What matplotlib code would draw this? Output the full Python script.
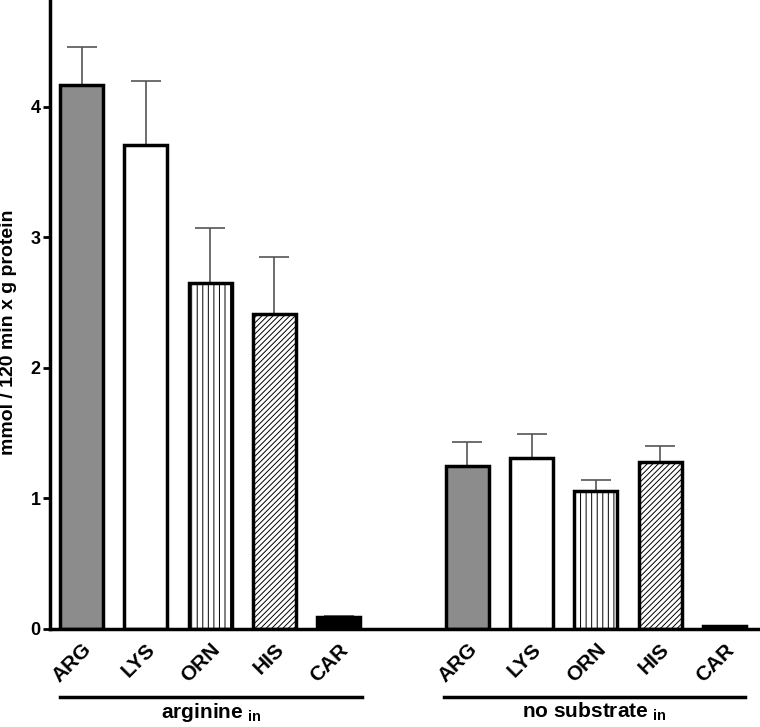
import matplotlib.pyplot as plt
import numpy as np

aminoacids = ["ARG", "LYS", "ORN", "HIS", "CAR"]
groups = ["arginine$_{\\ \\mathregular{in}}$", "no substrate$_{\\ \\mathregular{in}}$"]
arginine_in = [4.17, 3.71, 2.65, 2.41, 0.09]
arginine_in_err = [0.29, 0.49, 0.42, 0.44, 0.01]
no_substrate_in = [1.25, 1.31, 1.06, 1.28, 0.02]
no_substrate_in_err = [0.18, 0.18, 0.08, 0.12, 0.005]

fills = ["#8c8c8c", "white", "white", "white", "black"]
hatches = ["", "", "|||", "//////", ""]

plt.rcParams['font.family'] = ['Liberation Sans', 'DejaVu Sans']
plt.rcParams['hatch.linewidth'] = 0.7

fig = plt.figure(figsize=(7.6, 7.27), dpi=100)
ax = fig.add_axes([0.066, 0.135, 0.931, 0.865])

x1 = np.arange(5)
x2 = np.arange(5) + 6
for xs, vals, errs in [(x1, arginine_in, arginine_in_err), (x2, no_substrate_in, no_substrate_in_err)]:
    for x, v, e, fc, h in zip(xs, vals, errs, fills, hatches):
        ax.bar(x, v, width=0.67, color=fc, edgecolor='black', linewidth=2.5, hatch=h, zorder=2)
        ax.errorbar(x, v, yerr=[[0], [e]], color='#555555', elinewidth=1.2,
                    capsize=11, capthick=1.2, zorder=1)

ax.set_xlim(-0.49, 10.52)
ax.set_ylim(0, 4.82)
ax.set_yticks([0, 1, 2, 3, 4])
ax.set_yticklabels(['0', '1', '2', '3', '4'], fontsize=13, fontweight='bold')
ax.set_xticks(list(x1) + list(x2))
ax.set_xticklabels(aminoacids * 2, rotation=45, ha='right', rotation_mode='anchor',
                   fontsize=15, fontweight='bold')
ax.tick_params(axis='x', length=0, pad=8)
ax.tick_params(axis='y', width=2, length=5, pad=2)
ax.set_ylabel("mmol / 120 min x g protein", fontsize=14, fontweight='bold')
ax.yaxis.set_label_coords(-0.047, 0.472)

for s in ['top', 'right']:
    ax.spines[s].set_visible(False)
for s in ['left', 'bottom']:
    ax.spines[s].set_linewidth(2.5)

trans = ax.get_xaxis_transform()
for (a, b), label in zip([(-0.33, 4.36), (5.64, 10.32)], groups):
    ax.plot([a, b], [-0.108, -0.108], color='black', linewidth=2.5, transform=trans, clip_on=False)
    ax.text((a + b) / 2, -0.114, label, transform=trans, ha='center', va='top',
            fontsize=15, fontweight='bold')

plt.savefig('out.png', dpi=100)
